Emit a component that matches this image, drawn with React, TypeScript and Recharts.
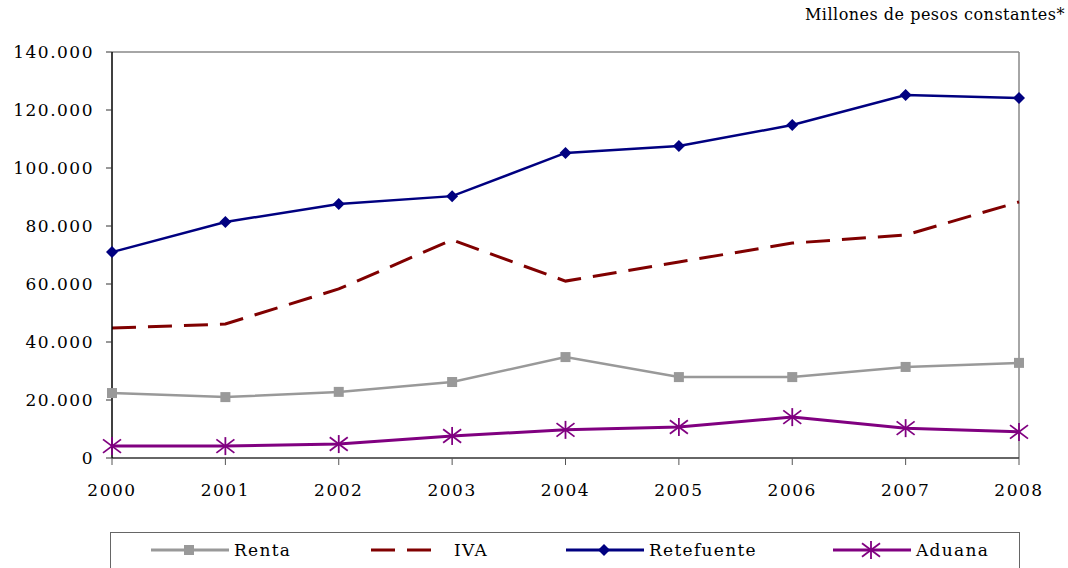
import { LineChart, Line, XAxis, YAxis, ReferenceLine } from "recharts";

const years = ["2000", "2001", "2002", "2003", "2004", "2005", "2006", "2007", "2008"];
const renta = [22400, 21000, 22800, 26200, 34800, 27900, 27900, 31400, 32800];
const iva = [44800, 46200, 58300, 75200, 61000, 67600, 74100, 76900, 88300];
const retefuente = [71000, 81400, 87600, 90300, 105200, 107600, 114800, 125200, 124100];
const aduana = [4100, 4100, 4800, 7600, 9700, 10700, 14100, 10300, 9000];
const yTicks = [0, 20000, 40000, 60000, 80000, 100000, 120000, 140000];

const data = years.map((y, i) => ({
  year: y,
  renta: renta[i],
  iva: iva[i],
  retefuente: retefuente[i],
  aduana: aduana[i],
}));

const FONT = "'DejaVu Serif', serif";

const fmt = (v: number) => (v === 0 ? "0" : v.toLocaleString("de-DE"));

function Square({ cx, cy, c }: any) {
  return <rect x={cx - 5} y={cy - 5} width={10} height={10} fill={c} />;
}
function Diamond({ cx, cy, c }: any) {
  return <path d={`M${cx} ${cy - 6}L${cx + 6} ${cy}L${cx} ${cy + 6}L${cx - 6} ${cy}Z`} fill={c} />;
}
function Star({ cx, cy, c }: any) {
  const r = 9;
  return (
    <g stroke={c} strokeWidth={1.8}>
      <line x1={cx - r} y1={cy - r * 0.75} x2={cx + r} y2={cy + r * 0.75} />
      <line x1={cx - r} y1={cy + r * 0.75} x2={cx + r} y2={cy - r * 0.75} />
      <line x1={cx} y1={cy - r} x2={cx} y2={cy + r} />
    </g>
  );
}

function LegendBox() {
  const txt = { fontFamily: FONT, fontSize: 17, letterSpacing: 1.3, color: "#000" };
  const item = (left: number, icon: any, label: string) => (
    <div style={{ position: "absolute", left, top: 6, display: "flex", alignItems: "center", height: 22 }}>
      <svg width={80} height={22}>{icon}</svg>
      <span style={{ ...txt, marginLeft: 3 }}>{label}</span>
    </div>
  );
  return (
    <div
      style={{
        position: "absolute", left: 110, top: 532, width: 910, height: 40,
        border: "1px solid #666", boxSizing: "border-box",
      }}
    >
      {item(40, <g><line x1={0} y1={11} x2={78} y2={11} stroke="#999999" strokeWidth={3} /><Square cx={38} cy={11} c="#999999" /></g>, "Renta")}
      {item(260, <line x1={0} y1={11} x2={72} y2={11} stroke="#800000" strokeWidth={3} strokeDasharray="24 12" />, "IVA")}
      {item(455, <g><line x1={0} y1={11} x2={78} y2={11} stroke="#000080" strokeWidth={3} /><Diamond cx={38} cy={11} c="#000080" /></g>, "Retefuente")}
      {item(722, <g><line x1={0} y1={11} x2={78} y2={11} stroke="#800080" strokeWidth={3} /><Star cx={38} cy={11} c="#800080" /></g>, "Aduana")}
    </div>
  );
}

export default function App() {
  const tick = { fontFamily: FONT, fontSize: 17, fill: "#000", letterSpacing: 1.5 };
  return (
    <div style={{ position: "absolute", left: 0, top: 0, width: 1068, height: 568, background: "#fff", overflow: "hidden" }}>
      <div
        style={{
          position: "absolute", right: 3, top: 5, fontFamily: FONT, fontSize: 16,
          letterSpacing: 0.5, color: "#000",
        }}
      >
        Millones de pesos constantes*
      </div>
      <LineChart width={1068} height={568} data={data} margin={{ top: 52, right: 49, left: 12, bottom: 0 }}>
        <XAxis
          dataKey="year"
          padding={{ left: 0, right: 0 }}
          tick={tick}
          tickSize={7}
          tickMargin={19}
          axisLine={{ stroke: "#333", strokeWidth: 1.5 }}
          tickLine={{ stroke: "#555" }}
          height={110}
        />
        <YAxis
          width={100}
          domain={[0, 140000]}
          ticks={yTicks}
          tickFormatter={fmt}
          tick={tick}
          tickSize={6}
          tickMargin={12}
          axisLine={{ stroke: "#000", strokeWidth: 1.5 }}
          tickLine={{ stroke: "#333" }}
        />
        <ReferenceLine y={140000} stroke="#888" strokeWidth={1.5} />
        <ReferenceLine x="2008" stroke="#888" strokeWidth={1.5} />
        <Line
          dataKey="renta"
          stroke="#999999"
          strokeWidth={2.5}
          isAnimationActive={false}
          dot={(p: any) => <Square key={p.key} cx={p.cx} cy={p.cy} c="#999999" />}
          activeDot={false}
        />
        <Line
          dataKey="iva"
          stroke="#800000"
          strokeWidth={3}
          strokeDasharray="24 12"
          isAnimationActive={false}
          dot={false}
          activeDot={false}
        />
        <Line
          dataKey="retefuente"
          stroke="#000080"
          strokeWidth={2.5}
          isAnimationActive={false}
          dot={(p: any) => <Diamond key={p.key} cx={p.cx} cy={p.cy} c="#000080" />}
          activeDot={false}
        />
        <Line
          dataKey="aduana"
          stroke="#800080"
          strokeWidth={3}
          isAnimationActive={false}
          dot={(p: any) => <Star key={p.key} cx={p.cx} cy={p.cy} c="#800080" />}
          activeDot={false}
        />
      </LineChart>
      <LegendBox />
    </div>
  );
}
